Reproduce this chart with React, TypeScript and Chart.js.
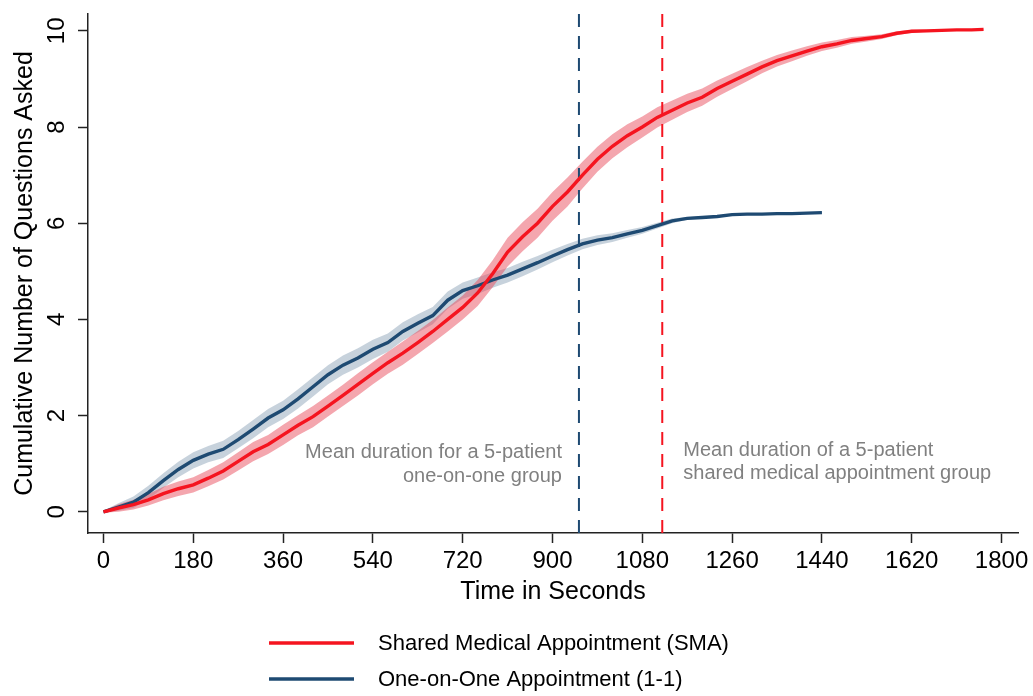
import React, { useEffect, useRef } from "react";
import { Chart, registerables } from "chart.js";

Chart.register(...registerables);

// ---------- data ----------
const redTime = [
  0, 30, 60, 90, 120, 150, 180, 210, 240, 270, 300, 330, 360, 390, 420, 450, 480, 510, 540, 570,
  600, 630, 660, 690, 720, 750, 780, 810, 840, 870, 900, 930, 960, 990, 1020, 1050, 1080, 1110,
  1140, 1170, 1200, 1230, 1260, 1290, 1320, 1350, 1380, 1410, 1440, 1470, 1500, 1530, 1560, 1590,
  1620, 1650, 1680, 1710, 1740, 1764,
];
const redMean = [
  0, 0.08, 0.15, 0.25, 0.38, 0.48, 0.56, 0.7, 0.85, 1.05, 1.25, 1.4, 1.6, 1.8, 1.98, 2.2, 2.42,
  2.65, 2.88, 3.1, 3.3, 3.52, 3.75, 4.0, 4.25, 4.55, 4.95, 5.4, 5.72, 6.0, 6.35, 6.65, 7.0, 7.33,
  7.6, 7.82, 8.0, 8.2, 8.35, 8.5, 8.62, 8.8, 8.95, 9.1, 9.25, 9.38, 9.48, 9.58, 9.67, 9.73, 9.8,
  9.84, 9.88, 9.95, 9.99, 10.0, 10.01, 10.02, 10.02, 10.03,
];
const redCI = [
  0.02, 0.08, 0.1, 0.12, 0.14, 0.15, 0.16, 0.17, 0.18, 0.19, 0.2, 0.2, 0.21, 0.21, 0.22, 0.22,
  0.22, 0.23, 0.23, 0.23, 0.24, 0.24, 0.24, 0.25, 0.25, 0.27, 0.28, 0.3, 0.3, 0.3, 0.3, 0.3, 0.28,
  0.26, 0.25, 0.24, 0.22, 0.21, 0.2, 0.19, 0.18, 0.17, 0.16, 0.15, 0.13, 0.12, 0.11, 0.1, 0.09,
  0.08, 0.07, 0.06, 0.05, 0.04, 0.03, 0.02, 0.02, 0.01, 0.01, 0.01,
];

const blueTime = [
  0, 30, 60, 90, 120, 150, 180, 210, 240, 270, 300, 330, 360, 390, 420, 450, 480, 510, 540, 570,
  600, 630, 660, 690, 720, 750, 780, 810, 840, 870, 900, 930, 960, 990, 1020, 1050, 1080, 1110,
  1140, 1170, 1200, 1230, 1260, 1290, 1320, 1350, 1380, 1410, 1440,
];
const blueMean = [
  0, 0.1, 0.2, 0.4, 0.65, 0.88, 1.07, 1.2, 1.3, 1.5, 1.72, 1.95, 2.12, 2.35, 2.6, 2.85, 3.05, 3.2,
  3.38, 3.52, 3.75, 3.92, 4.08, 4.4, 4.6, 4.7, 4.82, 4.92, 5.05, 5.18, 5.32, 5.45, 5.57, 5.65, 5.7,
  5.78, 5.85, 5.95, 6.05, 6.1, 6.12, 6.14, 6.18, 6.19, 6.19, 6.2, 6.2, 6.21, 6.22,
];
const blueCI = [
  0.02, 0.08, 0.12, 0.14, 0.15, 0.16, 0.17, 0.17, 0.18, 0.18, 0.19, 0.19, 0.19, 0.2, 0.2, 0.2, 0.2,
  0.2, 0.2, 0.19, 0.19, 0.19, 0.18, 0.18, 0.17, 0.17, 0.16, 0.15, 0.15, 0.14, 0.13, 0.12, 0.11, 0.1,
  0.09, 0.08, 0.07, 0.06, 0.05, 0.03, 0.02, 0.01, 0.01, 0.01, 0.01, 0.01, 0.01, 0.01, 0.01,
];

// mean session durations (seconds): one-on-one, SMA
const meanDurations = [953, 1120];

const xTicks = [0, 180, 360, 540, 720, 900, 1080, 1260, 1440, 1620, 1800];
const yTicks = [0, 2, 4, 6, 8, 10];

const seriesLabels = ["Shared Medical Appointment (SMA)", "One-on-One Appointment (1-1)"];
const annotationLeft = ["Mean duration for a 5-patient", "one-on-one group"];
const annotationRight = ["Mean duration of a 5-patient", "shared medical appointment group"];
const xTitle = "Time in Seconds";
const yTitle = "Cumulative Number of Questions Asked";

// ---------- style ----------
const FONT = "'Liberation Sans', Arial, Helvetica, sans-serif";
const RED = "#f5141f";
const BLUE = "#1e4a72";
const RED_BAND = "rgba(232, 70, 85, 0.48)";
const BLUE_BAND = "rgba(30, 74, 114, 0.25)";
const AXIS = "#222";
const X_MIN = -31;
const X_MAX = 1833;
const Y_MIN = -0.44;
const Y_MAX = 10.35;

const pts = (t: number[], v: number[]) => t.map((x, i) => ({ x, y: v[i] }));

const overlayPlugin = {
  id: "overlayText",
  afterDraw(chart: any) {
    const { ctx, scales } = chart;
    const xs = scales.x;
    const ys = scales.y;
    ctx.save();
    // rotated y tick labels
    ctx.fillStyle = "#000";
    ctx.font = `24px ${FONT}`;
    ctx.textAlign = "center";
    ctx.textBaseline = "alphabetic";
    yTicks.forEach((v) => {
      const py = ys.getPixelForValue(v);
      ctx.save();
      ctx.translate(64, py);
      ctx.rotate(-Math.PI / 2);
      ctx.fillText(String(v), 0, 0);
      ctx.restore();
    });

    // annotations
    ctx.fillStyle = "#808080";
    ctx.font = `20px ${FONT}`;
    ctx.textBaseline = "middle";
    ctx.textAlign = "right";
    const lx = xs.getPixelForValue(meanDurations[0]) - 17;
    annotationLeft.forEach((t, i) => ctx.fillText(t, lx, 452 + i * 24));
    ctx.textAlign = "left";
    const rx = xs.getPixelForValue(meanDurations[1]) + 21;
    annotationRight.forEach((t, i) => ctx.fillText(t, rx, 450 + i * 23));

    // legend
    const colors = [RED, BLUE];
    ctx.font = `22px ${FONT}`;
    ctx.textAlign = "left";
    ctx.textBaseline = "middle";
    seriesLabels.forEach((lab, i) => {
      const ly = 643 + i * 36;
      ctx.strokeStyle = colors[i];
      ctx.lineWidth = 3.5;
      ctx.beginPath();
      ctx.moveTo(269, ly);
      ctx.lineTo(354, ly);
      ctx.stroke();
      ctx.fillStyle = "#000";
      ctx.fillText(lab, 378, ly + 1);
    });
    ctx.restore();
  },
};

export default function App() {
  const ref = useRef<HTMLCanvasElement | null>(null);

  useEffect(() => {
    if (!ref.current) return;
    const redLow = redMean.map((v, i) => v - redCI[i]);
    const redHigh = redMean.map((v, i) => v + redCI[i]);
    const blueLow = blueMean.map((v, i) => v - blueCI[i]);
    const blueHigh = blueMean.map((v, i) => v + blueCI[i]);

    const lineCommon = { pointRadius: 0, pointHoverRadius: 0, tension: 0 };

    const chart = new Chart(ref.current, {
      type: "line",
      data: {
        datasets: [
          {
            label: seriesLabels[0],
            data: pts(redTime, redMean),
            borderColor: RED,
            borderWidth: 3.4,
            fill: false,
            ...lineCommon,
          },
          {
            label: seriesLabels[1],
            data: pts(blueTime, blueMean),
            borderColor: BLUE,
            borderWidth: 3.4,
            fill: false,
            ...lineCommon,
          },
          {
            label: "mean 1-1",
            data: [
              { x: meanDurations[0], y: Y_MIN },
              { x: meanDurations[0], y: Y_MAX },
            ],
            borderColor: BLUE,
            borderWidth: 2,
            borderDash: [13, 9],
            fill: false,
            ...lineCommon,
          },
          {
            label: "mean SMA",
            data: [
              { x: meanDurations[1], y: Y_MIN },
              { x: meanDurations[1], y: Y_MAX },
            ],
            borderColor: RED,
            borderWidth: 2,
            borderDash: [13, 9],
            fill: false,
            ...lineCommon,
          },
          {
            label: "SMA low",
            data: pts(redTime, redLow),
            borderWidth: 0,
            borderColor: "rgba(0,0,0,0)",
            fill: false,
            ...lineCommon,
          },
          {
            label: "SMA high",
            data: pts(redTime, redHigh),
            borderWidth: 0,
            borderColor: "rgba(0,0,0,0)",
            backgroundColor: RED_BAND,
            fill: "-1",
            ...lineCommon,
          },
          {
            label: "1-1 low",
            data: pts(blueTime, blueLow),
            borderWidth: 0,
            borderColor: "rgba(0,0,0,0)",
            fill: false,
            ...lineCommon,
          },
          {
            label: "1-1 high",
            data: pts(blueTime, blueHigh),
            borderWidth: 0,
            borderColor: "rgba(0,0,0,0)",
            backgroundColor: BLUE_BAND,
            fill: "-1",
            ...lineCommon,
          },
        ],
      },
      options: {
        animation: false,
        responsive: false,
        devicePixelRatio: 1,
        layout: { padding: { left: 0, top: 14, right: 15, bottom: 89 } },
        plugins: {
          legend: { display: false },
          tooltip: { enabled: false },
        },
        scales: {
          x: {
            type: "linear",
            min: X_MIN,
            max: X_MAX,
            afterBuildTicks: (s: any) => {
              s.ticks = xTicks.map((value) => ({ value }));
            },
            afterFit: (s: any) => {
              s.height = 74;
            },
            grid: {
              display: true,
              drawOnChartArea: false,
              drawTicks: true,
              tickLength: 10,
              tickColor: AXIS,
              tickWidth: 1.5,
            },
            border: { display: true, color: AXIS, width: 1.5 },
            ticks: {
              color: "#000",
              font: { size: 24, family: FONT },
              padding: 4,
              maxRotation: 0,
              minRotation: 0,
              autoSkip: false,
              callback: (v: any) => String(v),
            },
            title: {
              display: true,
              text: xTitle,
              color: "#000",
              font: { size: 25, family: FONT },
              padding: { top: 0, bottom: 0 },
            },
          },
          y: {
            type: "linear",
            min: Y_MIN,
            max: Y_MAX,
            afterBuildTicks: (s: any) => {
              s.ticks = yTicks.map((value) => ({ value }));
            },
            afterFit: (s: any) => {
              s.width = 88;
            },
            grid: {
              display: true,
              drawOnChartArea: false,
              drawTicks: true,
              tickLength: 10,
              tickColor: AXIS,
              tickWidth: 1.5,
            },
            border: { display: true, color: AXIS, width: 1.5 },
            ticks: { display: false },
            title: {
              display: true,
              text: yTitle,
              color: "#000",
              font: { size: 25, family: FONT },
              padding: { top: 10, bottom: 0 },
            },
          },
        },
      },
      plugins: [overlayPlugin],
    });
    return () => chart.destroy();
  }, []);

  return (
    <div
      style={{
        position: "fixed",
        left: 0,
        top: 0,
        width: 1033,
        height: 696,
        background: "#fff",
      }}
    >
      <canvas ref={ref} width={1033} height={696} />
    </div>
  );
}
